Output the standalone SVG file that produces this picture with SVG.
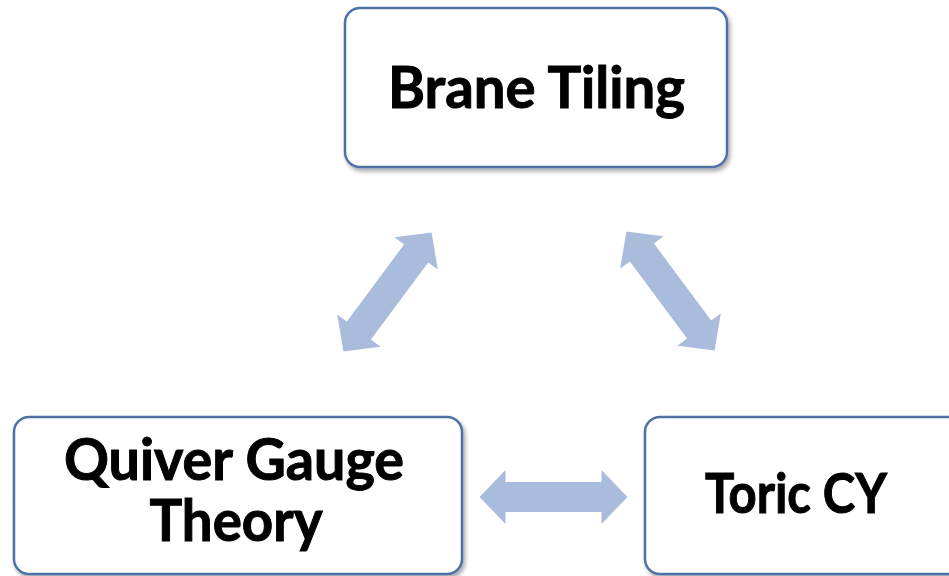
<svg xmlns="http://www.w3.org/2000/svg" xmlns:xlink="http://www.w3.org/1999/xlink" width="949" height="576" viewBox="0 0 949 576">
  <style>
    .box { fill: #ffffff; stroke: #4f72a6; stroke-width: 2.5; filter: url(#shadow); }
    .label { font-family: Lato, "Liberation Sans", sans-serif; font-weight: 700; font-size: 57px; fill: #000000; stroke: #000000; stroke-width: 1; text-anchor: middle; }
    .arrow { fill: #aabcdb; }
  </style>
  <defs>
    <filter id="shadow" x="-10%" y="-10%" width="125%" height="130%">
      <feDropShadow dx="2" dy="3" stdDeviation="2.2" flood-color="#000000" flood-opacity="0.35"/>
    </filter>
    <path id="dblArrow" d="M -74 0 L -48 -27 L -48 -15 L 48 -15 L 48 -27 L 74 0 L 48 27 L 48 15 L -48 15 L -48 27 Z"/>
  </defs>
  <rect width="949" height="576" fill="#ffffff"/>

  <g id="connectors">
    <use xlink:href="#dblArrow" class="arrow" transform="translate(387.5 292) rotate(-53.4)"/>
    <use xlink:href="#dblArrow" class="arrow" transform="translate(670.5 291) rotate(53.4)"/>
    <use xlink:href="#dblArrow" class="arrow" transform="translate(553.5 497)"/>
  </g>

  <g id="brane-tiling">
    <rect class="box" x="345" y="8" width="382" height="159" rx="15"/>
    <text class="label" x="536.5" y="108" textLength="297" lengthAdjust="spacingAndGlyphs">Brane Tiling</text>
  </g>

  <g id="quiver-gauge-theory">
    <rect class="box" x="14" y="417" width="448" height="157" rx="15"/>
    <text class="label" x="234" y="480" textLength="340" lengthAdjust="spacingAndGlyphs">Quiver Gauge</text>
    <text class="label" x="236" y="541" textLength="173" lengthAdjust="spacingAndGlyphs">Theory</text>
  </g>

  <g id="toric-cy">
    <rect class="box" x="645" y="417" width="320" height="157" rx="15"/>
    <text class="label" x="796" y="513" style="font-size:55px" textLength="182" lengthAdjust="spacingAndGlyphs">Toric CY</text>
  </g>
</svg>
